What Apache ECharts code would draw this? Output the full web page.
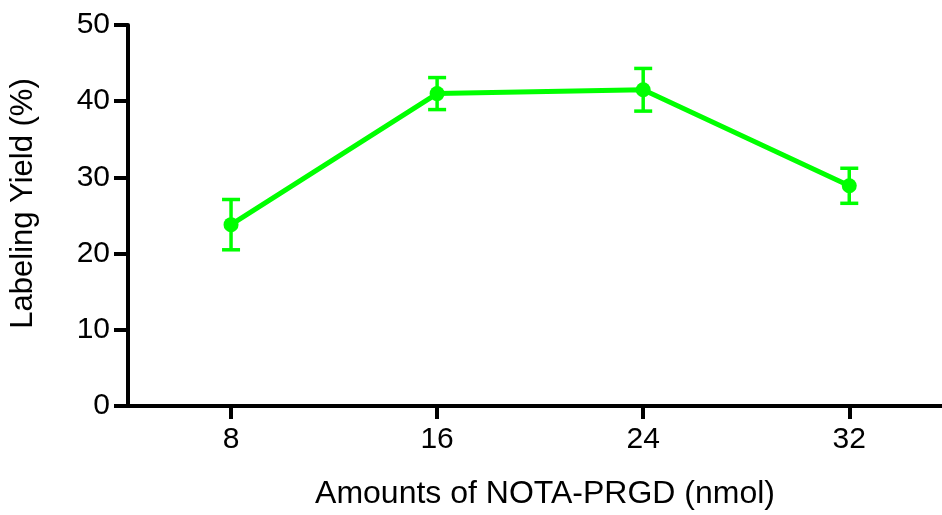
<!DOCTYPE html>
<html>
<head>
<meta charset="utf-8">
<script src="https://cdn.jsdelivr.net/npm/echarts@6/dist/echarts.min.js"></script>
<style>html,body{margin:0;padding:0;background:#fff;}#c{width:942px;height:515px;}</style>
</head>
<body>
<div id="c"></div>
<script>
const amounts = [8, 16, 24, 32];
const yieldMean = [23.8, 41.0, 41.5, 28.9];
const yieldErr = [3.3, 2.1, 2.8, 2.3];
const yTicks = [0, 10, 20, 30, 40, 50];
const xTicks = [8, 16, 24, 32];

const green = '#00ff00';
const font = 'Liberation Sans, Arial, sans-serif';

const lineData = amounts.map((x, i) => [x, yieldMean[i]]);
const errData = amounts.map((x, i) => [x, yieldMean[i] - yieldErr[i], yieldMean[i] + yieldErr[i]]);

const chart = echarts.init(document.getElementById('c'), null, {renderer: 'canvas'});
chart.setOption({
  animation: false,
  backgroundColor: '#fff',
  grid: {left: 128, top: 25, right: 0, bottom: 109, containLabel: false},
  xAxis: {
    type: 'value', min: 4, max: 35.6,
    name: 'Amounts of NOTA-PRGD (nmol)', nameLocation: 'middle', nameGap: 72,
    nameTextStyle: {fontFamily: font, fontSize: 32, color: '#000', padding: [0, 0, 0, 20]},
    axisLine: {show: true, onZero: false, lineStyle: {color: '#000', width: 4}},
    axisTick: {show: true, length: 13, lineStyle: {color: '#000', width: 4}, customValues: xTicks},
    axisLabel: {fontFamily: font, fontSize: 30, color: '#000', margin: 19, customValues: xTicks},
    splitLine: {show: false}
  },
  yAxis: {
    type: 'value', min: yTicks[0], max: yTicks[yTicks.length - 1], interval: 10,
    name: 'Labeling Yield (%)', nameLocation: 'middle', nameGap: 89,
    nameTextStyle: {fontFamily: font, fontSize: 31, color: '#000', padding: [0, 0, 0, 24]},
    axisLine: {show: true, lineStyle: {color: '#000', width: 4}},
    axisTick: {show: true, length: 14, lineStyle: {color: '#000', width: 4}},
    axisLabel: {fontFamily: font, fontSize: 30, color: '#000', margin: 18},
    splitLine: {show: false}
  },
  series: [
    {
      type: 'custom',
      data: errData,
      z: 3,
      renderItem: function (params, api) {
        const x = api.value(0);
        const lo = api.coord([x, api.value(1)]);
        const hi = api.coord([x, api.value(2)]);
        const hw = 9;
        const style = {stroke: green, lineWidth: 3.5};
        return {
          type: 'group',
          children: [
            {type: 'line', shape: {x1: lo[0], y1: lo[1], x2: hi[0], y2: hi[1]}, style: style},
            {type: 'line', shape: {x1: lo[0] - hw, y1: lo[1], x2: lo[0] + hw, y2: lo[1]}, style: style},
            {type: 'line', shape: {x1: hi[0] - hw, y1: hi[1], x2: hi[0] + hw, y2: hi[1]}, style: style}
          ]
        };
      }
    },
    {
      type: 'line',
      data: lineData,
      z: 4,
      symbol: 'circle',
      symbolSize: 15,
      lineStyle: {color: green, width: 5},
      itemStyle: {color: green},
      emphasis: {disabled: true}
    }
  ]
});
</script>
</body>
</html>
